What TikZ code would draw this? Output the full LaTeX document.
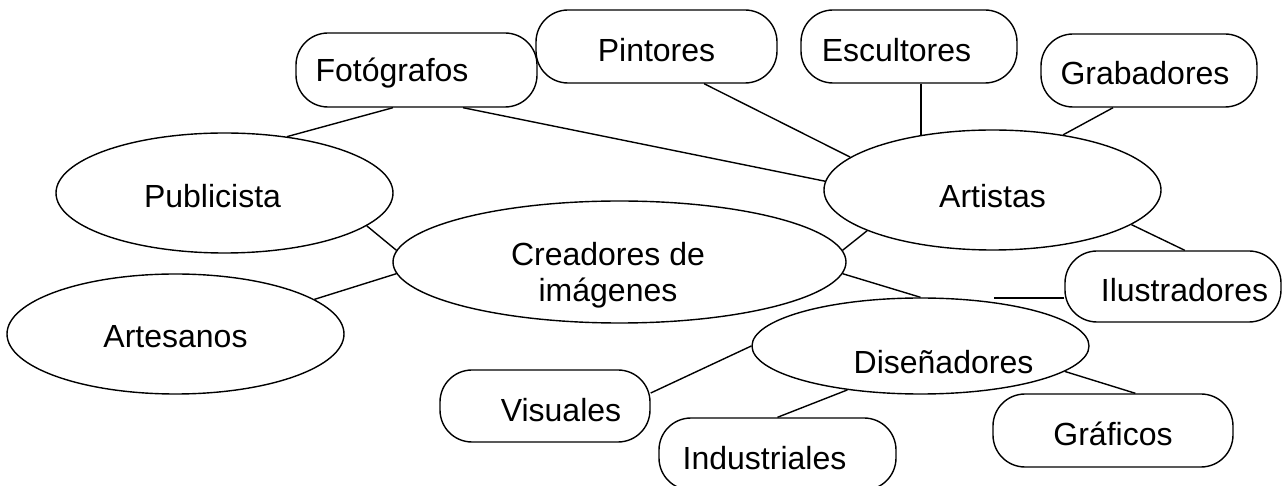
\documentclass[tikz,border=0pt]{standalone}
\usepackage{fontspec}
\setmainfont{Liberation Sans}
\usetikzlibrary{shapes.geometric}

\tikzset{
  elipse/.style={draw, ellipse, inner sep=0pt, line width=0.7pt},
  caja/.style={draw, rectangle, rounded corners=16pt, inner sep=0pt, line width=0.7pt},
  texto/.style={anchor=base, font=\fontsize{16}{18}\selectfont, inner sep=0pt},
  enlace/.style={line width=0.7pt}
}

\begin{document}
\begin{tikzpicture}[x=0.5pt, y=-0.5pt]
	\useasboundingbox (0,0) rectangle (1287,486);
	% elipses
	\node[elipse, minimum width=168.5pt, minimum height=60pt,
		label={[texto, name=publi-t, xshift=-6pt, yshift=-1.5pt]center:Publicista}] (publi) at (224.5,193) {};
	\node[elipse, minimum width=168.5pt, minimum height=60pt,
		label={[texto, name=arti-t, yshift=-3pt]center:Artistas}] (arti) at (992.5,190) {};
	\node[elipse, minimum width=168.5pt, minimum height=60pt,
		label={[texto, name=arte-t, yshift=-1.5pt]center:Artesanos}] (arte) at (175.5,334) {};
	\node[elipse, minimum width=226.5pt, minimum height=61pt,
		label={[texto, name=crea-t, anchor=center, align=center, xshift=-5.75pt, yshift=-6.8pt]center:Creadores de\\imágenes}] (crea) at (619.5,262) {};
	\node[elipse, minimum width=168.5pt, minimum height=48pt,
		label={[texto, name=dise-t, xshift=11.5pt, yshift=-8pt]center:Diseñadores}] (dise) at (920.5,346) {};
	% cajas
	\node[caja, minimum width=120.5pt, minimum height=37pt,
		label={[texto, name=foto-t, xshift=-12.25pt, yshift=-1.5pt]center:Fotógrafos}] (foto) at (416.5,70) {};
	\node[caja, minimum width=120.5pt, minimum height=36.5pt,
		label={[texto, name=pint-t, yshift=-1.75pt]center:Pintores}] (pint) at (656.5,46.5) {};
	\node[caja, minimum width=108pt, minimum height=36.5pt,
		label={[texto, name=escu-t, xshift=-6.25pt, yshift=-1.75pt]center:Escultores}] (escu) at (909,46.5) {};
	\node[caja, minimum width=108pt, minimum height=36.5pt,
		label={[texto, name=grab-t, xshift=-2pt, yshift=-1.25pt]center:Grabadores}] (grab) at (1149,70.5) {};
	\node[caja, minimum width=108pt, minimum height=35.5pt,
		label={[texto, name=ilus-t, xshift=5.75pt, yshift=-1.75pt]center:Ilustradores}] (ilus) at (1173,286.5) {};
	\node[caja, minimum width=105pt, minimum height=36pt,
		label={[texto, name=visu-t, xshift=8pt, yshift=-2pt]center:Visuales}] (visu) at (545,406) {};
	\node[caja, minimum width=118.5pt, minimum height=36pt,
		label={[texto, name=indu-t, xshift=-6.5pt, yshift=-2.15pt]center:Industriales}] (indu) at (777.5,454) {};
	\node[caja, minimum width=120pt, minimum height=36.5pt,
		label={[texto, name=graf-t, yshift=-1.5pt]center:Gráficos}] (graf) at (1113,430.5) {};
	% enlaces
	\draw[enlace] (foto.238) -- (publi.42);
	\draw[enlace] (foto.321) -- (arti.177);
	\draw[enlace] (pint.322) -- (arti.167);
	\draw[enlace] (escu.288) -- (escu.288 |- arti.141);
	\draw[enlace] (grab.226) -- (arti.38);
	\draw[enlace] (arti.346) -- (ilus.72);
	\draw[enlace] (crea.3) -- (arti.198);
	\draw[enlace] (publi.347) -- (crea.177);
	\draw[enlace] (arte.14) -- (crea.183);
	\draw[enlace] (crea.357) -- (dise.north);
	\draw[enlace] (ilus.186) -- (ilus.186 -| dise.31);
	\draw[enlace] (visu.7) -- (dise.west);
	\draw[enlace] (dise.211) -- (indu.north);
	\draw[enlace] (dise.350) -- (graf.59);
\end{tikzpicture}
\end{document}
